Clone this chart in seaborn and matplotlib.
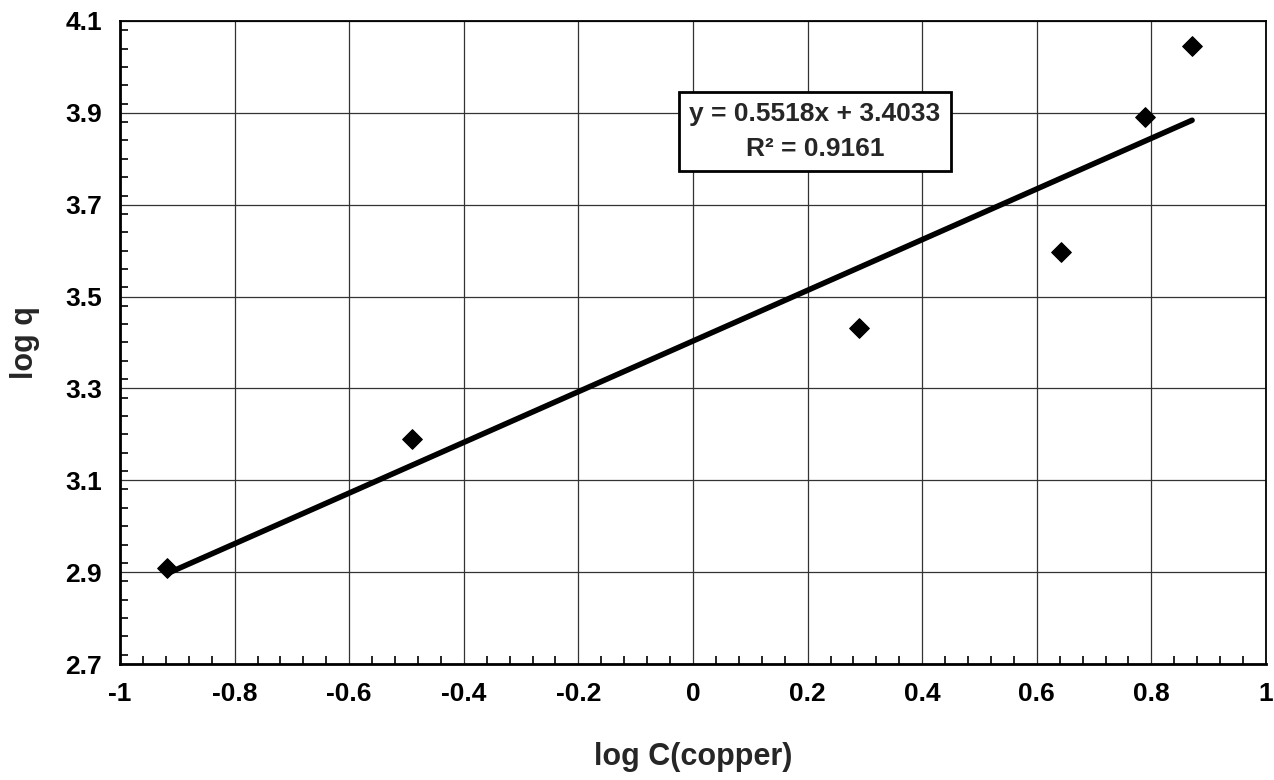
import numpy as np
import pandas as pd
import matplotlib
matplotlib.use("Agg")
import matplotlib.pyplot as plt
from matplotlib.ticker import MultipleLocator, FixedLocator
import seaborn as sns

# Data
log_c = [-0.918, -0.490, 0.290, 0.642, 0.789, 0.871]
log_q = [2.909, 3.190, 3.432, 3.598, 3.892, 4.046]
x_ticks = [-1, -0.8, -0.6, -0.4, -0.2, 0, 0.2, 0.4, 0.6, 0.8, 1]
x_tick_labels = ["-1", "-0.8", "-0.6", "-0.4", "-0.2", "0", "0.2", "0.4", "0.6", "0.8", "1"]
y_ticks = [2.7, 2.9, 3.1, 3.3, 3.5, 3.7, 3.9, 4.1]
y_tick_labels = ["2.7", "2.9", "3.1", "3.3", "3.5", "3.7", "3.9", "4.1"]
fit_slope = 0.5518
fit_intercept = 3.4033
r_squared = 0.9161

sns.set_theme(style="white")
plt.rcParams["font.family"] = ["Liberation Sans", "DejaVu Sans"]

df = pd.DataFrame({"x": log_c, "y": log_q})
xs = np.array([min(log_c), max(log_c)])
fit_df = pd.DataFrame({"x": xs, "y": fit_slope * xs + fit_intercept})

fig = plt.figure(figsize=(12.74, 7.80), dpi=100)
ax = fig.add_axes([120 / 1274, 1 - 664 / 780, (1266 - 120) / 1274, (664 - 21) / 780])

sns.lineplot(data=fit_df, x="x", y="y", ax=ax, color="black", linewidth=4, zorder=3)
sns.scatterplot(data=df, x="x", y="y", ax=ax, marker="D", s=100, color="black",
                edgecolor="black", zorder=4)

ax.set_xlim(-1, 1)
ax.set_ylim(2.7, 4.1)
ax.xaxis.set_major_locator(FixedLocator(x_ticks))
ax.set_xticklabels(x_tick_labels)
ax.yaxis.set_major_locator(FixedLocator(y_ticks))
ax.set_yticklabels(y_tick_labels)
ax.xaxis.set_minor_locator(MultipleLocator(0.04))
ax.yaxis.set_minor_locator(MultipleLocator(0.04))

ax.grid(True, which="major", color="#333333", linewidth=0.9)
ax.tick_params(axis="both", which="major", direction="in", length=0, pad=13,
               labelsize=19, labelcolor="black")
ax.tick_params(axis="both", which="minor", direction="in", length=6, width=1.2, color="black",
               bottom=True, left=True, top=False, right=False)
for lab in ax.get_xticklabels() + ax.get_yticklabels():
    lab.set_fontweight("bold")

for s in ax.spines.values():
    s.set_color("black")
    s.set_linewidth(1.3)
ax.spines["left"].set_linewidth(2)
ax.spines["bottom"].set_linewidth(2)

ax.set_xlabel("log C(copper)", fontsize=22, fontweight="bold", va="center")
ax.set_ylabel("log q", fontsize=22, fontweight="bold", va="center")
ax.xaxis.set_label_coords(0.5, (664 - 757) / 643)
ax.yaxis.set_label_coords((25 - 120) / 1146, 0.5)

ax.text(0.213, 3.859,
        f"y = {fit_slope:.4f}x + {fit_intercept:.4f}\nR\u00b2 = {r_squared:.4f}",
        ha="center", va="center", fontsize=19, fontweight="bold", linespacing=1.55,
        bbox=dict(boxstyle="square,pad=0.4", facecolor="white", edgecolor="black", linewidth=2),
        zorder=5)

fig.savefig("out.png", dpi=100)
